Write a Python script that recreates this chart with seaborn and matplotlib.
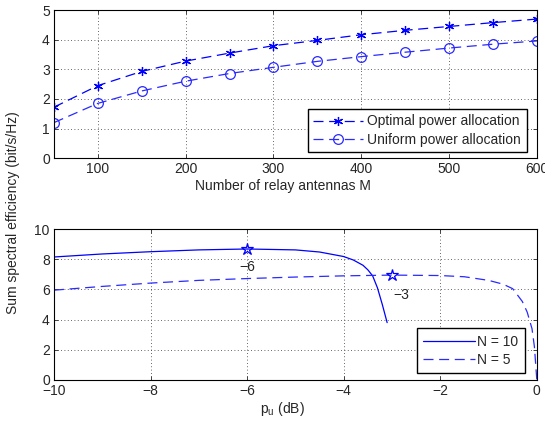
import matplotlib
matplotlib.use('Agg')
import matplotlib.pyplot as plt
import seaborn as sns
import numpy as np
import pandas as pd

# top panel: sum rate vs. number of relay antennas
M = [50, 100, 150, 200, 250, 300, 350, 400, 450, 500, 550, 600]
optimal = [1.72, 2.45, 2.93, 3.28, 3.55, 3.80, 3.98, 4.17, 4.32, 4.45, 4.58, 4.70]
uniform = [1.20, 1.85, 2.27, 2.60, 2.86, 3.07, 3.27, 3.43, 3.58, 3.72, 3.85, 3.96]

# bottom panel: sum rate vs. p_u (dB)
pu_n10 = [-10, -9, -8, -7, -6, -5, -4.5, -4, -3.8, -3.6, -3.5, -3.4, -3.3, -3.2, -3.1]
se_n10 = [8.15, 8.35, 8.50, 8.62, 8.68, 8.62, 8.48, 8.18, 7.95, 7.60, 7.30, 6.90, 6.10, 5.00, 3.80]
pu_n5 = [-10, -9, -8, -7, -6, -5, -4, -3, -2, -1.5, -1, -0.7, -0.5, -0.3, -0.2, -0.1, -0.05, 0]
se_n5 = [5.95, 6.20, 6.42, 6.60, 6.72, 6.82, 6.90, 6.95, 6.92, 6.84, 6.60, 6.35, 6.05, 5.20, 4.50, 3.40, 2.20, 0.0]
opt_pu = [-6, -3]
opt_se = [8.70, 6.95]
opt_labels = ['\u22126', '\u22123']

sns.set_style('white')
plt.rcParams['font.family'] = ['Liberation Sans', 'DejaVu Sans']
plt.rcParams['mathtext.fontset'] = 'custom'
plt.rcParams['mathtext.rm'] = 'Liberation Sans'
plt.rcParams['axes.unicode_minus'] = True

fig = plt.figure(figsize=(5.45, 4.25), dpi=100)
ax1 = fig.add_axes([0.099, 0.628, 0.886, 0.348])
ax2 = fig.add_axes([0.099, 0.106, 0.886, 0.355])

blue = '#0000ff'
blue2 = '#2a2aff'
dash = (0, (8, 4.5))
fs = 10

# ---- top ----
sns.lineplot(x=M, y=optimal, ax=ax1, color=blue, linestyle=dash, lw=0.9,
             marker=(6, 2, 0), markersize=6.5, markeredgewidth=0.9, markeredgecolor=blue,
             label='Optimal power allocation', estimator=None)
sns.lineplot(x=M, y=uniform, ax=ax1, color=blue2, linestyle=dash, lw=0.9,
             marker='o', markersize=7, markerfacecolor='none', markeredgewidth=0.9,
             markeredgecolor=blue2, label='Uniform power allocation', estimator=None)
ax1.set_xlim(50, 600)
ax1.set_ylim(0, 5)
ax1.set_xticks([100, 200, 300, 400, 500, 600])
ax1.set_yticks([0, 1, 2, 3, 4, 5])
ax1.set_xlabel('Number of relay antennas M', fontsize=fs, labelpad=2)
ax1.xaxis.label.set_x(0.474)
ax1.legend(loc='lower right', fontsize=fs, frameon=True, fancybox=False, edgecolor='black',
           framealpha=1, handlelength=3.6, handletextpad=0.3, borderpad=0.4,
           labelspacing=0.3, borderaxespad=0, bbox_to_anchor=(0.979, 0.04))

# ---- bottom ----
sns.lineplot(x=pu_n10, y=se_n10, ax=ax2, color=blue, lw=0.9, label='N = 10',
             estimator=None, sort=False)
sns.lineplot(x=pu_n5, y=se_n5, ax=ax2, color=blue2, lw=0.9, linestyle=dash,
             label='N = 5', estimator=None, sort=False)
ax2.plot(opt_pu, opt_se, linestyle='none', marker='*', markersize=9,
         markerfacecolor='none', markeredgecolor=blue, markeredgewidth=0.9)
ax2.text(opt_pu[0], 7.5, opt_labels[0], ha='center', va='center', fontsize=fs)
ax2.text(opt_pu[1] + 0.2, 5.6, opt_labels[1], ha='center', va='center', fontsize=fs)
ax2.set_xlim(-10, 0)
ax2.set_ylim(0, 10)
ax2.set_xticks([-10, -8, -6, -4, -2, 0])
ax2.set_yticks([0, 2, 4, 6, 8, 10])
ax2.set_xlabel(r'p$_\mathregular{u}$ (dB)', fontsize=fs, labelpad=1)
ax2.xaxis.label.set_x(0.474)
ax2.legend(loc='lower right', fontsize=fs, frameon=True, fancybox=False, edgecolor='black',
           framealpha=1, handlelength=3.7, handletextpad=0.2, borderpad=0.45,
           labelspacing=0.3, borderaxespad=0, bbox_to_anchor=(0.975, 0.045))

for ax in (ax1, ax2):
    ax.grid(True, linestyle=(0, (1, 3)), color='#333333', lw=0.6)
    ax.tick_params(direction='in', top=True, right=True, length=3, width=0.6,
                   labelsize=fs, pad=3, bottom=True, left=True)
    for s in ax.spines.values():
        s.set_color('black')
        s.set_linewidth(0.8)
    ax.set_ylabel('')

fig.text(0.024, 0.5, 'Sum spectral efficiency (bit/s/Hz)', rotation=90,
         ha='center', va='center', fontsize=fs)

fig.savefig('out.png', dpi=100)
